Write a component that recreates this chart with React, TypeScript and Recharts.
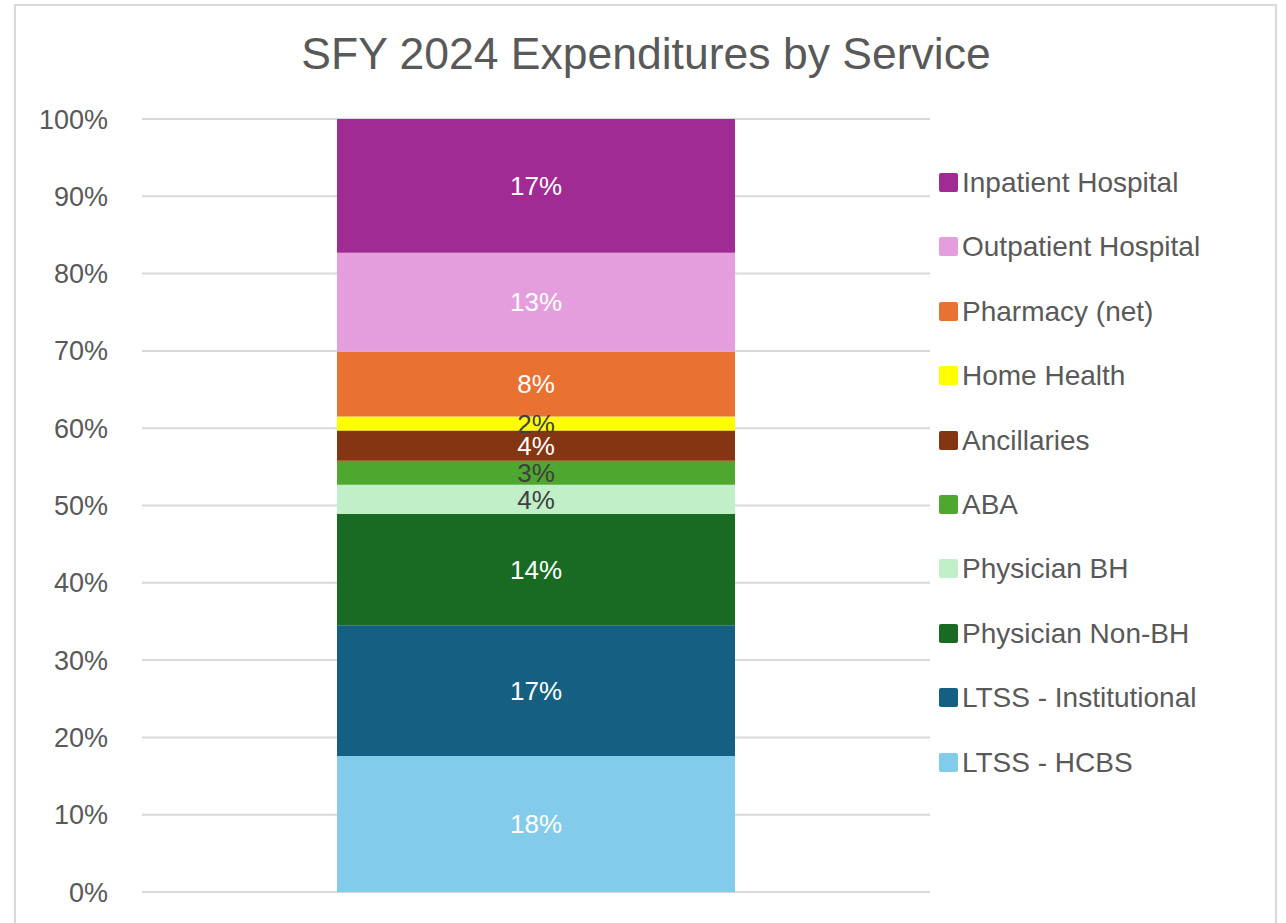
import React from "react";
import { BarChart, Bar, XAxis, YAxis, CartesianGrid, LabelList, Legend } from "recharts";

const categories = [
  "LTSS - HCBS",
  "LTSS - Institutional",
  "Physician Non-BH",
  "Physician BH",
  "ABA",
  "Ancillaries",
  "Home Health",
  "Pharmacy (net)",
  "Outpatient Hospital",
  "Inpatient Hospital",
];
const shares = [17.6, 16.9, 14.4, 3.8, 3.1, 3.9, 1.8, 8.4, 12.8, 17.3];
const colors = [
  "#83CBEB",
  "#156082",
  "#196B24",
  "#C1F0C8",
  "#4EA72E",
  "#843511",
  "#FFFF00",
  "#E97132",
  "#E59EDD",
  "#A02B93",
];
const labelColors = [
  "#ffffff",
  "#ffffff",
  "#ffffff",
  "#404040",
  "#404040",
  "#ffffff",
  "#404040",
  "#ffffff",
  "#ffffff",
  "#ffffff",
];
const yTicks = [0, 10, 20, 30, 40, 50, 60, 70, 80, 90, 100];

const row: Record<string, string | number> = { name: "SFY 2024" };
categories.forEach((c, i) => {
  row[c] = shares[i];
});
const data = [row];

const FONT = '"Liberation Sans", Arial, sans-serif';

const LegendContent = (props: any) => {
  const items = [...(props.payload || [])].sort(
    (a: any, b: any) => categories.indexOf(b.value) - categories.indexOf(a.value)
  );
  return (
    <div style={{ fontFamily: FONT }}>
      {items.map((it: any) => (
        <div
          key={it.value}
          style={{ height: 64.4, display: "flex", alignItems: "flex-start" }}
        >
          <span
            style={{
              display: "inline-block",
              width: 19,
              height: 19,
              borderRadius: 2,
              background: it.color,
              marginTop: 1,
              marginRight: 4,
            }}
          />
          <span style={{ fontSize: 28, color: "#595959", lineHeight: "21px" }}>
            {it.value}
          </span>
        </div>
      ))}
    </div>
  );
};

export default function App() {
  return (
    <div
      style={{
        position: "absolute",
        left: 0,
        top: 0,
        width: 1286,
        height: 923,
        overflow: "hidden",
        background: "#fff",
        fontFamily: FONT,
      }}
    >
      <div
        style={{
          position: "absolute",
          left: 14,
          top: 4,
          width: 1259,
          height: 940,
          border: "2px solid #d9d9d9",
        }}
      />
      <div
        style={{
          position: "absolute",
          left: 0,
          width: 1292,
          top: 29,
          textAlign: "center",
          fontSize: 44.5,
          color: "#595959",
        }}
      >
        SFY 2024 Expenditures by Service
      </div>
      <div style={{ position: "absolute", left: 0, top: 0 }}>
        <BarChart
          width={1286}
          height={923}
          data={data}
          margin={{ top: 119, right: 26, bottom: 31, left: 82 }}
          barSize={398}
        >
          <CartesianGrid vertical={false} stroke="#d9d9d9" strokeWidth={2} />
          <XAxis dataKey="name" hide />
          <YAxis
            domain={[0, 100]}
            ticks={yTicks}
            tickFormatter={(v: number) => `${v}%`}
            axisLine={false}
            tickLine={false}
            tickSize={0}
            tickMargin={34}
            width={60}
            tick={{ fill: "#595959", fontSize: 27, fontFamily: FONT }}
          />
          <Legend
            layout="vertical"
            verticalAlign="top"
            align="right"
            wrapperStyle={{ left: 939, top: 172, width: 330 }}
            content={LegendContent}
          />
          {categories.map((c, i) => (
            <Bar
              key={c}
              dataKey={c}
              stackId="a"
              fill={colors[i]}
              isAnimationActive={false}
            >
              <LabelList
                dataKey={c}
                position="center"
                fill={labelColors[i]}
                fontSize={26}
                fontFamily={FONT}
                formatter={(v: any) => `${Math.round(Number(v))}%`}
              />
            </Bar>
          ))}
        </BarChart>
      </div>
    </div>
  );
}
